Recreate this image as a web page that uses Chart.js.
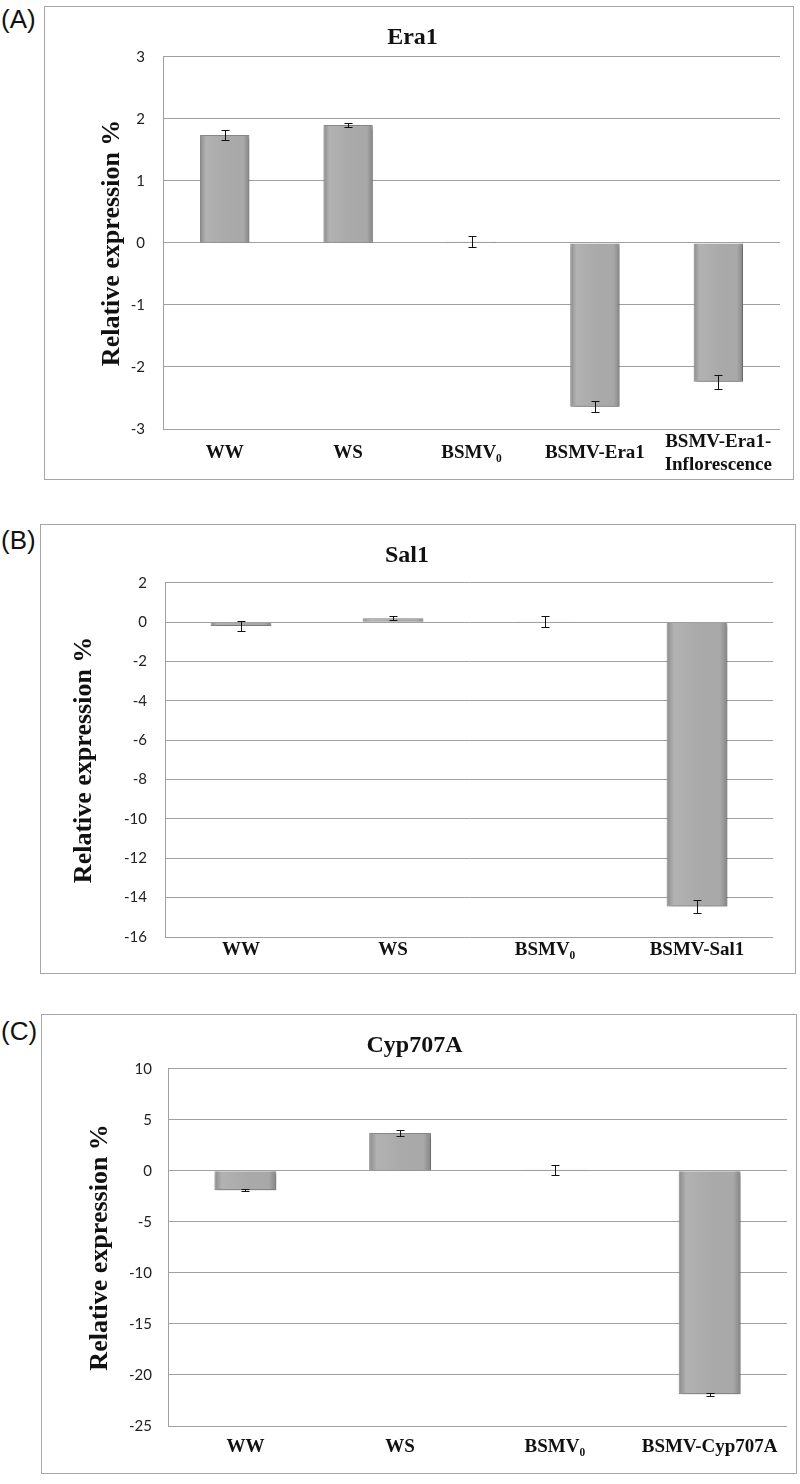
<!DOCTYPE html>
<html>
<head>
<meta charset="utf-8">
<script src="https://cdn.jsdelivr.net/npm/chart.js@4.4.1/dist/chart.umd.min.js"></script>
<style>
  html, body { margin: 0; padding: 0; background: #fff; }
  body { position: relative; width: 800px; height: 1484px; overflow: hidden; }
  .frame { position: absolute; box-sizing: border-box; border: 1px solid #a6a6a6; background: #fff; }
  .frame canvas { position: absolute; left: 0; top: 0; }
  .tag { position: absolute; left: 1px; font: 26px "Liberation Sans", Arial, sans-serif; line-height: 26px; color: #111; }
</style>
</head>
<body>
<div class="tag" style="top:6px">(A)</div>
<div class="tag" style="top:527px">(B)</div>
<div class="tag" style="top:1018px">(C)</div>

<div class="frame" style="left:44px;top:6px;width:750px;height:474px"><canvas id="chart_a"></canvas></div>
<div class="frame" style="left:40px;top:524px;width:756px;height:450px"><canvas id="chart_b"></canvas></div>
<div class="frame" style="left:41px;top:1014px;width:756px;height:460px"><canvas id="chart_c"></canvas></div>

<script>
// ---- data ----
const eraLabels = ['WW', 'WS', 'BSMV\u2080', 'BSMV-Era1', ['BSMV-Era1-', 'Inflorescence']];
const eraValues = [1.74, 1.90, 0.02, -2.64, -2.24];
const eraErrors = [0.08, 0.03, 0.09, 0.09, 0.11];
const eraTicks = [-3, -2, -1, 0, 1, 2, 3];

const salLabels = ['WW', 'WS', 'BSMV\u2080', 'BSMV-Sal1'];
const salValues = [-0.2, 0.2, 0.03, -14.45];
const salErrors = [0.27, 0.1, 0.28, 0.35];
const salTicks = [-16, -14, -12, -10, -8, -6, -4, -2, 0, 2];

const cypLabels = ['WW', 'WS', 'BSMV\u2080', 'BSMV-Cyp707A'];
const cypValues = [-1.9, 3.7, 0.1, -21.9];
const cypErrors = [0.12, 0.3, 0.5, 0.15];
const cypTicks = [-25, -20, -15, -10, -5, 0, 5, 10];

const GRID = '#a0a0a0';
const SERIF = '"Liberation Serif", "Times New Roman", serif';
const BAR_SHARE = 0.4;

// soft drop shadow under the bars (restored before error bars are drawn)
const barShadow = {
  id: 'barShadow',
  beforeDatasetsDraw(chart) {
    const ctx = chart.ctx;
    ctx.save();
    ctx.shadowColor = 'rgba(0,0,0,0.35)';
    ctx.shadowBlur = 4;
    ctx.shadowOffsetX = 2;
    ctx.shadowOffsetY = 2;
  },
  afterDatasetsDraw(chart) {
    chart.ctx.restore();
  }
};

// error bars with small caps
const errorBars = {
  id: 'errorBars',
  afterDatasetsDraw(chart, args, opts) {
    const ctx = chart.ctx;
    const y = chart.scales.y;
    const meta = chart.getDatasetMeta(0);
    const values = chart.data.datasets[0].data;
    ctx.save();
    ctx.strokeStyle = '#111';
    ctx.lineWidth = 1;
    meta.data.forEach((bar, i) => {
      const e = opts.errors[i];
      const yHi = Math.round(y.getPixelForValue(values[i] + e)) + 0.5;
      const yLo = Math.round(y.getPixelForValue(values[i] - e)) + 0.5;
      const cx = Math.round(bar.x) + 0.5;
      const w = 4;
      ctx.beginPath();
      ctx.moveTo(cx, yHi); ctx.lineTo(cx, yLo);
      ctx.moveTo(cx - w, yHi); ctx.lineTo(cx + w, yHi);
      ctx.moveTo(cx - w, yLo); ctx.lineTo(cx + w, yLo);
      ctx.stroke();
    });
    ctx.restore();
  }
};

// bevel-like shading across each bar, placed from the x scale
function barFill(c) {
  const chart = c.chart;
  const xs = chart.scales.x;
  if (!chart.chartArea || !xs || c.dataIndex === undefined) return '#a9a9a9';
  const cx = xs.getPixelForValue(c.dataIndex);
  const half = xs.width / chart.data.labels.length * BAR_SHARE / 2;
  const g = chart.ctx.createLinearGradient(cx - half, 0, cx + half, 0);
  g.addColorStop(0, '#8a8a8a');
  g.addColorStop(0.12, '#b2b2b2');
  g.addColorStop(0.5, '#aaaaaa');
  g.addColorStop(0.88, '#a8a8a8');
  g.addColorStop(1, '#858585');
  return g;
}

function makeChart(id, cfg) {
  const canvas = document.getElementById(id);
  canvas.width = cfg.w;
  canvas.height = cfg.h;
  canvas.style.width = cfg.w + 'px';
  canvas.style.height = cfg.h + 'px';

  return new Chart(canvas.getContext('2d'), {
    type: 'bar',
    data: {
      labels: cfg.labels,
      datasets: [{
        data: cfg.values,
        backgroundColor: barFill,
        borderColor: '#8c8c8c',
        borderWidth: 1,
        categoryPercentage: 1.0,
        barPercentage: BAR_SHARE
      }]
    },
    options: {
      responsive: false,
      animation: false,
      events: [],
      layout: { padding: { left: 0, right: cfg.padRight, top: 0, bottom: 0 } },
      plugins: {
        legend: { display: false },
        tooltip: { enabled: false },
        title: {
          display: true,
          text: cfg.title,
          color: '#111',
          font: { family: SERIF, size: 24, weight: 'bold', lineHeight: 1.2 },
          padding: { top: cfg.titleTop, bottom: cfg.titleBottom }
        },
        errorBars: { errors: cfg.errors }
      },
      scales: {
        x: {
          grid: { display: false },
          border: { display: false },
          ticks: {
            color: '#111',
            padding: cfg.xPad,
            crossAlign: 'center',
            maxRotation: 0,
            autoSkip: false,
            font: { family: SERIF, size: 19, weight: 'bold', lineHeight: 1.2 }
          },
          afterFit(scale) { scale.height = cfg.xHeight; }
        },
        y: {
          min: cfg.ticks[0],
          max: cfg.ticks[cfg.ticks.length - 1],
          afterBuildTicks(scale) { scale.ticks = cfg.ticks.map(v => ({ value: v })); },
          grid: { color: GRID, lineWidth: 1, drawTicks: false },
          border: { display: true, color: GRID, width: 1 },
          ticks: {
            color: '#222',
            padding: cfg.yPad,
            font: { family: 'Lato, "Open Sans", sans-serif', size: 15 }
          },
          title: {
            display: true,
            text: 'Relative expression %',
            color: '#111',
            font: { family: SERIF, size: 26, weight: 'bold', lineHeight: 1.2 },
            padding: { top: cfg.yTitlePad, bottom: 0 }
          },
          afterFit(scale) { scale.width = cfg.yWidth; }
        }
      }
    },
    plugins: [barShadow, errorBars]
  });
}

makeChart('chart_a', {
  w: 748, h: 472, labels: eraLabels, values: eraValues, errors: eraErrors, ticks: eraTicks,
  title: 'Era1', titleTop: 16, titleBottom: 5, padRight: 13,
  xHeight: 50, xPad: 5, yWidth: 118, yPad: 18, yTitlePad: 52
});

makeChart('chart_b', {
  w: 754, h: 448, labels: salLabels, values: salValues, errors: salErrors, ticks: salTicks,
  title: 'Sal1', titleTop: 16, titleBottom: 13, padRight: 22,
  xHeight: 36, xPad: 5, yWidth: 124, yPad: 18, yTitlePad: 28
});

makeChart('chart_c', {
  w: 754, h: 458, labels: cypLabels, values: cypValues, errors: cypErrors, ticks: cypTicks,
  title: 'Cyp707A', titleTop: 16, titleBottom: 9, padRight: 9,
  xHeight: 47, xPad: 13, yWidth: 126, yPad: 16, yTitlePad: 43
});
</script>
</body>
</html>
